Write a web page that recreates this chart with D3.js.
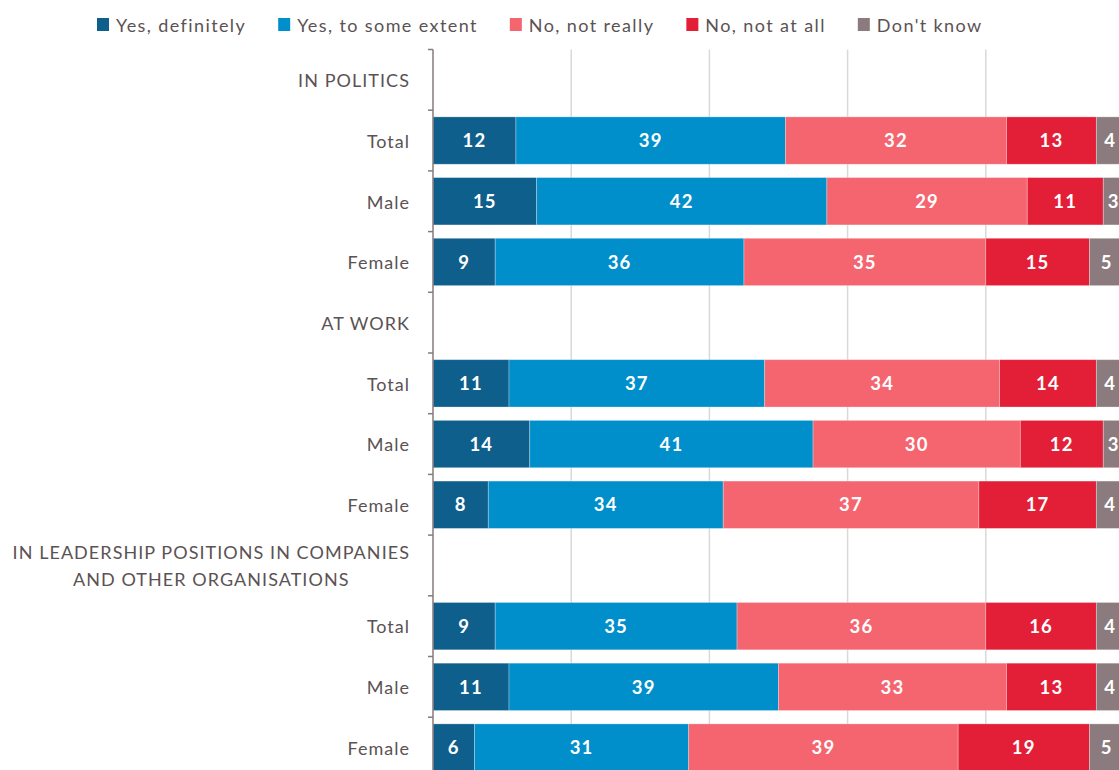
<!DOCTYPE html>
<html>
<head>
<meta charset="utf-8">
<script src="https://cdn.jsdelivr.net/npm/d3@7"></script>
<style>
  html, body { margin: 0; padding: 0; background: #fff; }
  svg { display: block; font-family: Lato, "Open Sans", sans-serif; }
</style>
</head>
<body>
<svg id="chart" width="1119" height="770"></svg>
<script>
// Answer categories (stack order, left to right)
const answers = ["Yes, definitely", "Yes, to some extent", "No, not really", "No, not at all", "Don't know"];
const answerColors = ["#0f5f8c", "#008fca", "#f4656f", "#e31f37", "#8b7b7e"];

// Rows: section headers have no values
const rowLabels = [
  "IN POLITICS", "Total", "Male", "Female",
  "AT WORK", "Total", "Male", "Female",
  "IN LEADERSHIP POSITIONS IN COMPANIES\nAND OTHER ORGANISATIONS", "Total", "Male", "Female"
];
const isHeader = [true, false, false, false, true, false, false, false, true, false, false, false];

// Percentages per answer category for each row (null for header rows)
const yesDefinitely   = [null, 12, 15, 9,  null, 11, 14, 8,  null, 9,  11, 6];
const yesSomeExtent   = [null, 39, 42, 36, null, 37, 41, 34, null, 35, 39, 31];
const noNotReally     = [null, 32, 29, 35, null, 34, 30, 37, null, 36, 33, 39];
const noNotAtAll      = [null, 13, 11, 15, null, 14, 12, 17, null, 16, 13, 19];
const dontKnow        = [null, 4,  3,  5,  null, 4,  3,  4,  null, 4,  4,  5];

const xTicks = [0, 20, 40, 60, 80, 100];

const series = [yesDefinitely, yesSomeExtent, noNotReally, noNotAtAll, dontKnow];

const svg = d3.select("#chart");
const axisX = 433;
const plotW = 691;
const plotTop = 49.5, rowStep = 60.7;

const x = d3.scaleLinear().domain([0, 100]).range([axisX, axisX + plotW]);
const rowKeys = rowLabels.map((d, i) => i);
const y = d3.scaleBand()
  .domain(rowKeys)
  .range([plotTop, plotTop + rowStep * rowKeys.length])
  .paddingInner(0.22)
  .paddingOuter(0.11);

const textColor = "#5b5254";

// Vertical gridlines
svg.append("g")
  .selectAll("line")
  .data(xTicks.filter(t => t > 0))
  .join("line")
  .attr("x1", d => x(d)).attr("x2", d => x(d))
  .attr("y1", plotTop).attr("y2", 770)
  .attr("stroke", "#d9d9d9")
  .attr("stroke-width", 1.5);

// Build stacked segments
const segments = [];
rowKeys.forEach(i => {
  if (isHeader[i]) return;
  let acc = 0;
  series.forEach((s, k) => {
    const v = s[i];
    segments.push({ row: i, k, v, x0: acc, x1: acc + v });
    acc += v;
  });
});

const segG = svg.append("g");
segG.selectAll("rect")
  .data(segments)
  .join("rect")
  .attr("x", d => x(d.x0))
  .attr("width", d => x(d.x1) - x(d.x0))
  .attr("y", d => y(d.row))
  .attr("height", y.bandwidth())
  .attr("fill", d => answerColors[d.k])
  .attr("stroke", "#ffffff")
  .attr("stroke-opacity", 0.35)
  .attr("stroke-width", 0.8);

segG.selectAll("text")
  .data(segments)
  .join("text")
  .attr("x", d => (x(d.x0) + x(d.x1)) / 2)
  .attr("y", d => y(d.row) + y.bandwidth() / 2)
  .attr("dy", "0.36em")
  .attr("text-anchor", "middle")
  .attr("fill", "#ffffff")
  .attr("font-size", 18.5)
  .attr("font-weight", 700)
  .attr("letter-spacing", 1.2)
  .text(d => d.v);

// Category axis: line plus tick marks between categories
const axisG = svg.append("g");
axisG.append("line")
  .attr("x1", axisX).attr("x2", axisX)
  .attr("y1", plotTop).attr("y2", 770)
  .attr("stroke", "#877a7c")
  .attr("stroke-width", 1.5);
axisG.selectAll("line.tick")
  .data(d3.range(rowKeys.length + 1))
  .join("line")
  .attr("class", "tick")
  .attr("x1", axisX - 5).attr("x2", axisX)
  .attr("y1", d => plotTop + d * rowStep).attr("y2", d => plotTop + d * rowStep)
  .attr("stroke", "#877a7c")
  .attr("stroke-width", 1.5);

// Row labels (right-aligned block, wrapped lines centred within it)
const labelRight = 410;
const lblG = svg.append("g")
  .attr("fill", textColor)
  .attr("font-size", 18);
rowKeys.forEach(i => {
  const lines = rowLabels[i].split("\n");
  const cy = y(i) + y.bandwidth() / 2 + 0.8;
  const lineH = 27;
  const t = lblG.append("text")
    .attr("text-anchor", "middle")
    .attr("letter-spacing", isHeader[i] ? 1.05 : 1);
  const spans = lines.map((ln, j) => t.append("tspan")
    .attr("y", cy + (j - (lines.length - 1) / 2) * lineH)
    .attr("dy", "0.36em")
    .text(ln));
  const maxW = d3.max(spans, s => s.node().getComputedTextLength());
  spans.forEach(s => s.attr("x", labelRight - maxW / 2));
});

// Legend
const legG = svg.append("g").attr("font-size", 18).attr("fill", textColor).attr("letter-spacing", 1.4);
let lx = 97;
answers.forEach((a, k) => {
  legG.append("rect")
    .attr("x", lx).attr("y", 18)
    .attr("width", 12).attr("height", 13)
    .attr("fill", answerColors[k]);
  const t = legG.append("text")
    .attr("x", lx + 19).attr("y", 25.5)
    .attr("dy", "0.36em")
    .text(a);
  lx += 19 + t.node().getComputedTextLength() + 32;
});
</script>
</body>
</html>
